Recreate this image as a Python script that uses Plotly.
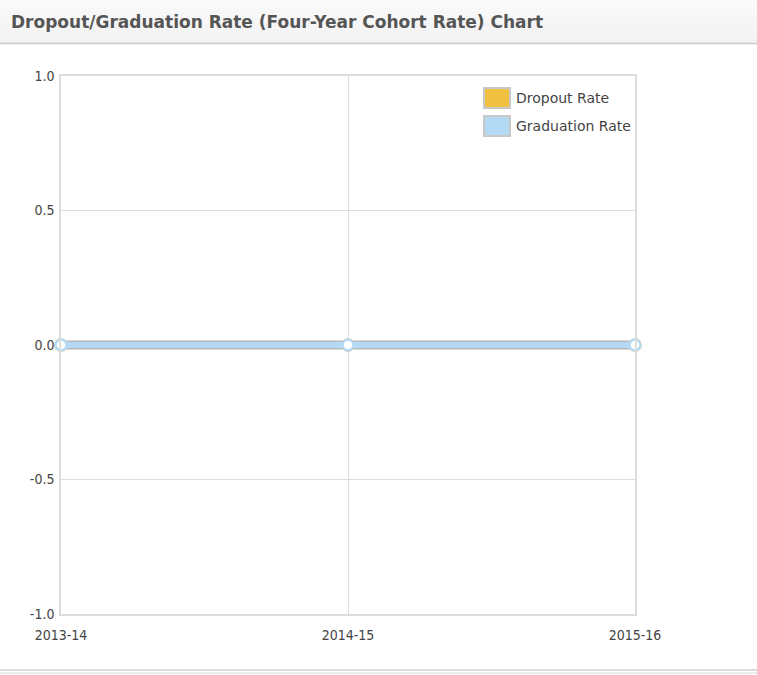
import plotly.graph_objects as go

categories = ["2013-14", "2014-15", "2015-16"]
dropout_rate = [0, 0, 0]
graduation_rate = [0, 0, 0]
series_names = ["Dropout Rate", "Graduation Rate"]
series_colors = ["#f0c040", "#b3d9f5"]
y_ticks = [-1.0, -0.5, 0.0, 0.5, 1.0]
y_tick_labels = ["-1.0", "-0.5", "0.0", "0.5", "1.0"]
title_text = "Dropout/Graduation Rate (Four-Year Cohort Rate) Chart"

W, H = 757, 675
L, R, T, B = 61, 122, 76, 61
pw, ph = W - L - R, H - T - B

def px_x(p):
    return (p - L) / pw

def px_y(p):
    return (H - B - p) / ph

fig = go.Figure()

for name, vals, col in [(series_names[0], dropout_rate, series_colors[0]),
                        (series_names[1], graduation_rate, series_colors[1])]:
    fig.add_trace(go.Scatter(x=categories, y=vals, mode="lines",
                             line=dict(color="rgba(0,0,0,0.15)", width=9),
                             hoverinfo="skip", showlegend=False, cliponaxis=False))
    fig.add_trace(go.Scatter(x=categories, y=vals, mode="lines+markers", name=name,
                             line=dict(color=col, width=6),
                             marker=dict(size=11, color="white",
                                         line=dict(color=col, width=2.5)),
                             showlegend=False, cliponaxis=False))

shapes = []
n = 12
for i in range(n):
    y0 = 43 * i / n
    y1 = 43 * (i + 1) / n
    c = int(250 - 8 * i / (n - 1))
    shapes.append(dict(type="rect", xref="paper", yref="paper",
                       x0=px_x(0), x1=px_x(W), y0=px_y(y1), y1=px_y(y0),
                       fillcolor=f"rgb({c},{c},{c})", line=dict(width=0), layer="below"))
shapes.append(dict(type="line", xref="paper", yref="paper",
                   x0=px_x(0), x1=px_x(W), y0=px_y(43.5), y1=px_y(43.5),
                   line=dict(color="#cccccc", width=1.5)))
shapes.append(dict(type="line", xref="paper", yref="paper",
                   x0=px_x(0), x1=px_x(W), y0=px_y(670), y1=px_y(670),
                   line=dict(color="#d0d0d0", width=1.5)))
shapes.append(dict(type="line", xref="paper", yref="paper",
                   x0=px_x(0), x1=px_x(W), y0=px_y(673), y1=px_y(673),
                   line=dict(color="#e6e6e6", width=1.5)))

annotations = [dict(text="<b>" + title_text + "</b>", xref="paper", yref="paper",
                    x=px_x(9), y=px_y(22), xanchor="left", yanchor="middle",
                    showarrow=False,
                    font=dict(family="DejaVu Sans", size=17, color="#555555"))]

leg_x0, leg_y = 484, [98, 126]
for name, col, yy in zip(series_names, series_colors, leg_y):
    shapes.append(dict(type="rect", xref="paper", yref="paper",
                       x0=px_x(leg_x0), x1=px_x(leg_x0 + 26),
                       y0=px_y(yy + 10), y1=px_y(yy - 10),
                       fillcolor=col, line=dict(color="#c8c8c8", width=2)))
    annotations.append(dict(text=name, xref="paper", yref="paper",
                            x=px_x(leg_x0 + 30), y=px_y(yy), xanchor="left", yanchor="middle",
                            showarrow=False,
                            font=dict(family="DejaVu Sans", size=14, color="#444444")))

tickfont = dict(family="DejaVu Sans Condensed, DejaVu Sans", size=14, color="#444444")
fig.update_layout(
    width=W, height=H,
    margin=dict(l=L, r=R, t=T, b=B, pad=0),
    paper_bgcolor="white", plot_bgcolor="white",
    shapes=shapes, annotations=annotations,
    showlegend=False,
    xaxis=dict(type="category", range=[0, 2], showgrid=True, gridcolor="#dddddd", gridwidth=1,
               zeroline=False, showline=True, linecolor="#dddddd", linewidth=1.5, mirror=True,
               ticks="outside", ticklen=7, tickcolor="rgba(0,0,0,0)", tickfont=tickfont),
    yaxis=dict(range=[-1, 1], tickvals=y_ticks, ticktext=y_tick_labels,
               showgrid=True, gridcolor="#dddddd", gridwidth=1,
               zeroline=False, showline=True, linecolor="#dddddd", linewidth=1.5, mirror=True,
               ticks="outside", ticklen=2, tickcolor="rgba(0,0,0,0)", tickfont=tickfont),
)

fig.write_html("out.html", config={"displayModeBar": False},
               post_script="document.body.style.margin='0';")
